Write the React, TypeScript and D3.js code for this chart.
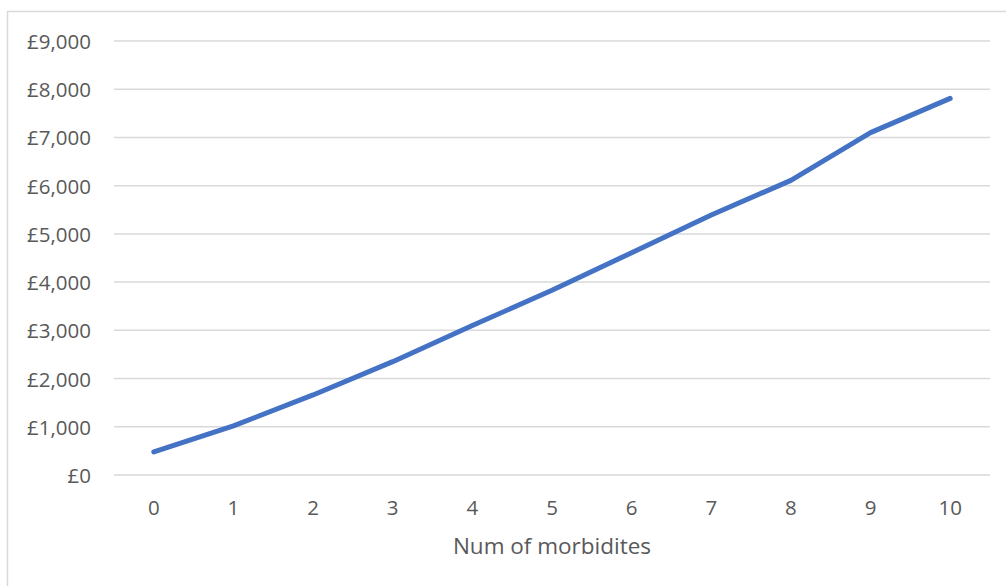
import React from "react";
import * as d3 from "d3";

const categories = ["0", "1", "2", "3", "4", "5", "6", "7", "8", "9", "10"];
const costs = [480, 1020, 1660, 2350, 3100, 3830, 4610, 5390, 6110, 7100, 7810];
const yTicks = [0, 1000, 2000, 3000, 4000, 5000, 6000, 7000, 8000, 9000];
const xTitle = "Num of morbidites";

const W = 1006;
const H = 586;
const plot = { left: 114, right: 990, top: 41, bottom: 475 };
const FONT = "'Open Sans', 'Noto Sans', sans-serif";
const TEXT = "#595959";
const GRID = "#d9d9d9";

export default function App() {
  const x = d3
    .scalePoint<string>()
    .domain(categories)
    .range([plot.left, plot.right])
    .padding(0.5);
  const y = d3.scaleLinear().domain([0, 9000]).range([plot.bottom, plot.top]);
  const fmt = (v: number) => "£" + d3.format(",")(v);

  const line = d3
    .line<number>()
    .x((_, i) => x(categories[i]) as number)
    .y((d) => y(d));

  return (
    <svg
      width={W}
      height={H}
      style={{ position: "fixed", left: 0, top: 0, background: "#fff" }}
      fontFamily={FONT}
    >
      <rect x={0} y={0} width={W} height={H} fill="#fff" />
      <rect
        x={7.5}
        y={11.5}
        width={W + 20}
        height={H + 20}
        fill="none"
        stroke={GRID}
        strokeWidth={1.5}
      />
      {yTicks.map((t) => (
        <g key={t}>
          <line
            x1={plot.left}
            x2={plot.right}
            y1={y(t)}
            y2={y(t)}
            stroke={GRID}
            strokeWidth={1.5}
          />
          <text
            x={91}
            y={y(t)}
            textAnchor="end"
            dominantBaseline="central"
            fontSize={20.5}
            fill={TEXT}
          >
            {fmt(t)}
          </text>
        </g>
      ))}
      {categories.map((c) => (
        <text
          key={c}
          x={x(c) as number}
          y={507}
          textAnchor="middle"
          dominantBaseline="central"
          fontSize={20.5}
          fill={TEXT}
        >
          {c}
        </text>
      ))}
      <text
        x={552}
        y={545}
        textAnchor="middle"
        dominantBaseline="central"
        fontSize={22.5}
        fill={TEXT}
      >
        {xTitle}
      </text>
      <path
        d={line(costs) ?? ""}
        fill="none"
        stroke="#4472C4"
        strokeWidth={5}
        strokeLinecap="round"
        strokeLinejoin="round"
      />
    </svg>
  );
}
